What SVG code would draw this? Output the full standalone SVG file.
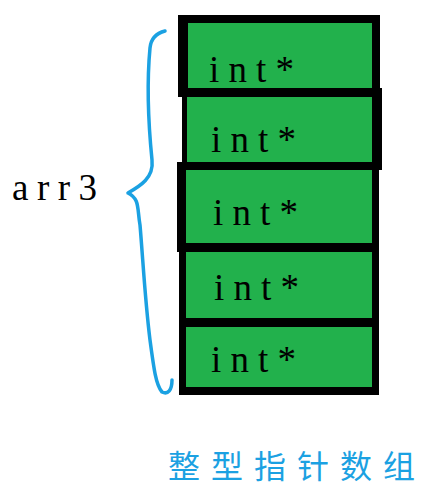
<svg xmlns="http://www.w3.org/2000/svg" width="421" height="488" viewBox="0 0 421 488">
<style>
.b{fill:#000}
.g{fill:#22b14c}
.t{font-family:"Liberation Serif","DejaVu Serif",serif;font-size:37px;fill:#000}
.cn{font-family:"Noto Sans CJK SC",sans-serif;font-size:32px;fill:#1ba1e2}
</style>
<rect width="421" height="488" fill="#fff"/>
<g id="cell1"><rect class="b" x="178" y="15" width="202" height="82"/><rect class="g" x="188" y="23" width="184" height="65"/><text class="t" x="209" y="82" textLength="85" lengthAdjust="spacing">int*</text></g>
<g id="cell2"><rect class="b" x="182" y="88" width="200" height="82"/><rect class="g" x="187" y="97" width="185" height="65"/><text class="t" x="211" y="152" textLength="85" lengthAdjust="spacing">int*</text></g>
<g id="cell3"><rect class="b" x="177" y="162" width="202" height="90"/><rect class="g" x="186" y="170" width="186" height="73"/><text class="t" x="213" y="225" textLength="85" lengthAdjust="spacing">int*</text></g>
<g id="cell4"><rect class="b" x="179" y="243" width="200" height="84"/><rect class="g" x="186" y="252" width="186" height="66"/><text class="t" x="214" y="300" textLength="85" lengthAdjust="spacing">int*</text></g>
<g id="cell5"><rect class="b" x="179" y="318" width="200" height="77"/><rect class="g" x="186" y="327" width="186" height="60"/><text class="t" x="211" y="372" textLength="85" lengthAdjust="spacing">int*</text></g>
<g id="connectors">
<path d="M165,31 C157,33 151,38 150,48 C147,80 148,120 152,160 C154,178 140,186 128,193 C140,199 137,208 140,225 C143,260 145,300 150,340 C154,370 156,385 162,392 C168,395 172,390 172,380" fill="none" stroke="#1ba1e2" stroke-width="3.5" stroke-linecap="round" stroke-linejoin="round"/>
</g>
<g id="label"><text class="t" x="12" y="200" textLength="85" lengthAdjust="spacing">arr3</text></g>
<g id="caption"><text class="cn" x="168 211 254 297 340 383" y="478">整型指针数组</text></g>
</svg>
